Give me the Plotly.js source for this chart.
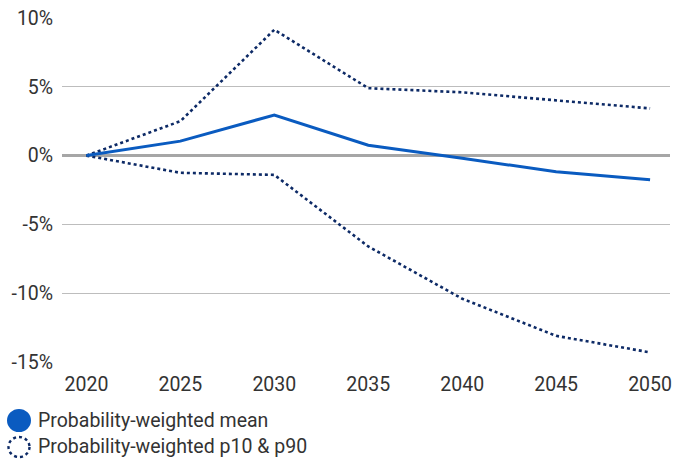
<!DOCTYPE html>
<html>
<head>
<meta charset="utf-8">
<script src="https://cdn.plot.ly/plotly-3.0.1.min.js"></script>
<style>html,body{margin:0;padding:0;background:#fff;}#chart{width:673px;height:459px;}</style>
</head>
<body>
<div id="chart"></div>
<script>
const years = [2020, 2025, 2030, 2035, 2040, 2045, 2050];
const meanVals = [0, 1.05, 2.95, 0.75, -0.2, -1.17, -1.75];
const p90Vals = [0, 2.5, 9.15, 4.9, 4.6, 4.0, 3.43];
const p10Vals = [0, -1.25, -1.4, -6.6, -10.4, -13.1, -14.3];
const yTicks = [10, 5, 0, -5, -10, -15];
const yTickLabels = ['10%', '5%', '0%', '-5%', '-10%', '-15%'];
const legendLabels = ['Probability-weighted mean', 'Probability-weighted p10 & p90'];

const blue = '#0a5bc0';
const navy = '#0d2a66';
const fontFam = 'Roboto, "Noto Sans", sans-serif';

const traces = [
  {x: years, y: p90Vals, mode: 'lines', line: {color: navy, width: 2.6, dash: 'dot'}, showlegend: false, hoverinfo: 'skip'},
  {x: years, y: p10Vals, mode: 'lines', line: {color: navy, width: 2.6, dash: 'dot'}, showlegend: false, hoverinfo: 'skip'},
  {x: years, y: meanVals, mode: 'lines', line: {color: blue, width: 3}, showlegend: false, hoverinfo: 'skip'}
];

const layout = {
  width: 673, height: 459,
  margin: {l: 62, r: 3, t: 18, b: 97},
  paper_bgcolor: '#fff', plot_bgcolor: '#fff',
  showlegend: false,
  font: {family: fontFam, size: 19, color: '#333'},
  xaxis: {
    range: [2018.7, 2051.06], tickvals: years, ticktext: years.map(String),
    showgrid: false, zeroline: false, showline: false,
    ticks: 'outside', ticklen: 5, tickcolor: 'rgba(0,0,0,0)',
    tickfont: {family: fontFam, size: 19.5, color: '#333'}
  },
  yaxis: {
    range: [-15, 10], tickvals: yTicks, ticktext: yTickLabels,
    showgrid: true, gridcolor: '#bdbdbd', gridwidth: 1,
    zeroline: true, zerolinecolor: '#a6a6a6', zerolinewidth: 2.5,
    showline: false,
    ticks: 'outside', ticklen: 4, tickcolor: 'rgba(0,0,0,0)',
    tickfont: {family: fontFam, size: 19.5, color: '#333'}
  },
  shapes: [
    {type: 'circle', xref: 'paper', yref: 'paper', xsizemode: 'pixel', ysizemode: 'pixel',
     xanchor: 0, yanchor: 0, x0: -55, x1: -31, y0: -47, y1: -70, fillcolor: blue, line: {width: 0}},
    {type: 'circle', xref: 'paper', yref: 'paper', xsizemode: 'pixel', ysizemode: 'pixel',
     xanchor: 0, yanchor: 0, x0: -53.5, x1: -32.5, y0: -75, y1: -95, fillcolor: 'rgba(0,0,0,0)',
     line: {color: navy, width: 2.4, dash: 'dot'}}
  ],
  annotations: [
    {xref: 'paper', yref: 'paper', x: 0, y: 0, xshift: -26, yshift: -58, xanchor: 'left', yanchor: 'middle',
     text: legendLabels[0], showarrow: false, font: {family: fontFam, size: 19.5, color: '#333'}},
    {xref: 'paper', yref: 'paper', x: 0, y: 0, xshift: -26, yshift: -84, xanchor: 'left', yanchor: 'middle',
     text: legendLabels[1], showarrow: false, font: {family: fontFam, size: 19.5, color: '#333'}}
  ]
};

Plotly.newPlot('chart', traces, layout, {displayModeBar: false, staticPlot: true});
</script>
</body>
</html>
